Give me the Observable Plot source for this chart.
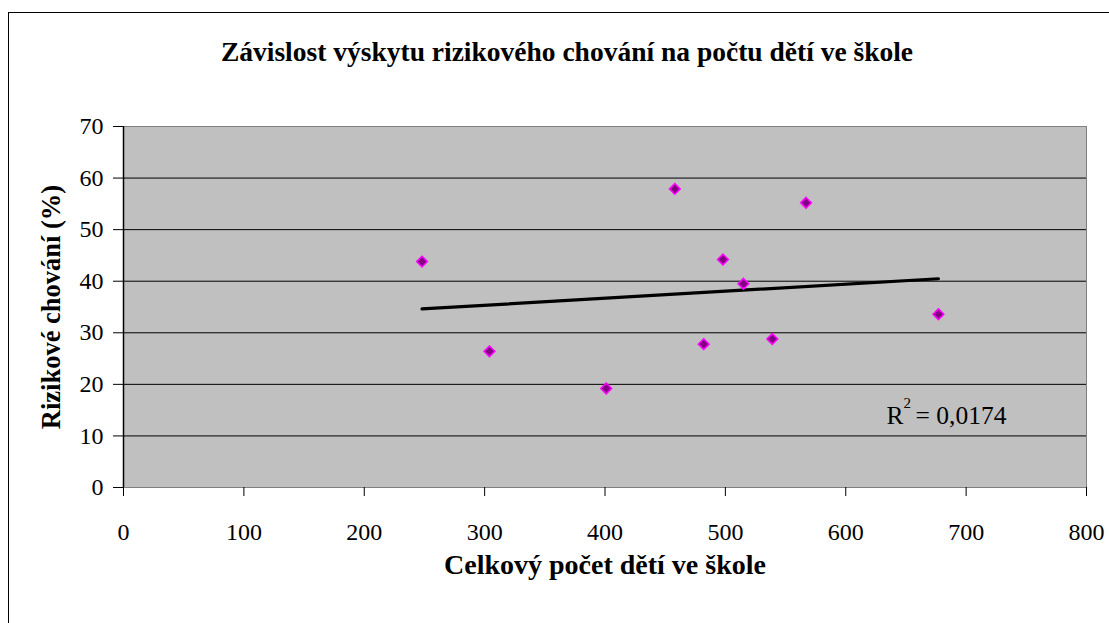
<!DOCTYPE html>
<html>
<head>
<meta charset="utf-8">
<script src="https://cdn.jsdelivr.net/npm/d3@7"></script>
<script src="https://cdn.jsdelivr.net/npm/@observablehq/plot@0.6"></script>
<style>
  html, body { margin: 0; padding: 0; background: #fff; overflow: hidden; }
  #wrap { position: relative; width: 1109px; height: 623px; overflow: hidden; }
  #border { position: absolute; left: 8px; top: 12px; width: 1200px; height: 700px;
            border-top: 1.5px solid #000; border-left: 1.5px solid #000; pointer-events: none; }
</style>
</head>
<body>
<div id="wrap"><div id="border"></div></div>
<script>
// Data
const schoolSize = [248, 304, 401, 458, 482, 498, 515, 539, 567, 677];
const riskPct    = [43.8, 26.4, 19.2, 57.9, 27.8, 44.2, 39.5, 28.8, 55.2, 33.6];
const xTicks = [0, 100, 200, 300, 400, 500, 600, 700, 800];
const yTicks = [0, 10, 20, 30, 40, 50, 60, 70];
const gridTicks = [10, 20, 30, 40, 50, 60];
const titleText = "Závislost výskytu rizikového chování na počtu dětí ve škole";
const xLabel = "Celkový počet dětí ve škole";
const yLabel = "Rizikové chování (%)";
const r2Base = "R";
const r2Sup = "2";
const r2Value = "= 0,0174";

const data = schoolSize.map((s, i) => ({size: s, risk: riskPct[i]}));

const serif = "'Liberation Serif', 'Times New Roman', Times, serif";

const chart = Plot.plot({
  width: 1109,
  height: 623,
  marginLeft: 123,
  marginRight: 23,
  marginTop: 126,
  marginBottom: 136,
  style: {fontFamily: serif, fontSize: "24px", color: "#000", background: "transparent", overflow: "visible"},
  x: {domain: [0, 800]},
  y: {domain: [0, 70]},
  marks: [
    Plot.frame({fill: "#c0c0c0", stroke: "#808080"}),
    Plot.gridY(gridTicks, {stroke: "#000", strokeOpacity: 1, strokeWidth: 1}),
    Plot.axisX({ticks: xTicks, tickSize: 9, tickPadding: 26, label: null, stroke: "#000", tickFormat: d => String(d)}),
    Plot.axisY({ticks: yTicks, tickSize: 10, tickPadding: 10, label: null, stroke: "#000", tickFormat: d => String(d)}),
    Plot.ruleX([0], {stroke: "#000", strokeWidth: 1.5}),
    Plot.linearRegressionY(data, {x: "size", y: "risk", stroke: "#000", strokeWidth: 3.2, ci: 0}),
    Plot.dot(data, {x: "size", y: "risk", symbol: "diamond2", r: 4.8, fill: "#800080", stroke: "#ff00ff", strokeWidth: 1.6}),
    Plot.text([titleText], {frameAnchor: "top", dx: -38, dy: -74, fontSize: 27.5, fontWeight: "bold", lineAnchor: "middle"}),
    Plot.text([xLabel], {frameAnchor: "bottom", dy: 78, fontSize: 28, fontWeight: "bold", lineAnchor: "middle"}),
    Plot.text([yLabel], {frameAnchor: "left", rotate: -90, dx: -72, fontSize: 26.5, fontWeight: "bold", lineAnchor: "middle", textAnchor: "middle"}),
    Plot.text([r2Base], {frameAnchor: "bottom-right", dx: -200, dy: -72, textAnchor: "start", fontSize: 25.5, lineAnchor: "middle"}),
    Plot.text([r2Sup], {frameAnchor: "bottom-right", dx: -183, dy: -84, textAnchor: "start", fontSize: 15, lineAnchor: "middle"}),
    Plot.text([r2Value], {frameAnchor: "bottom-right", dx: -80, dy: -72, textAnchor: "end", fontSize: 25.5, lineAnchor: "middle"})
  ]
});

document.getElementById("wrap").prepend(chart);
</script>
</body>
</html>
